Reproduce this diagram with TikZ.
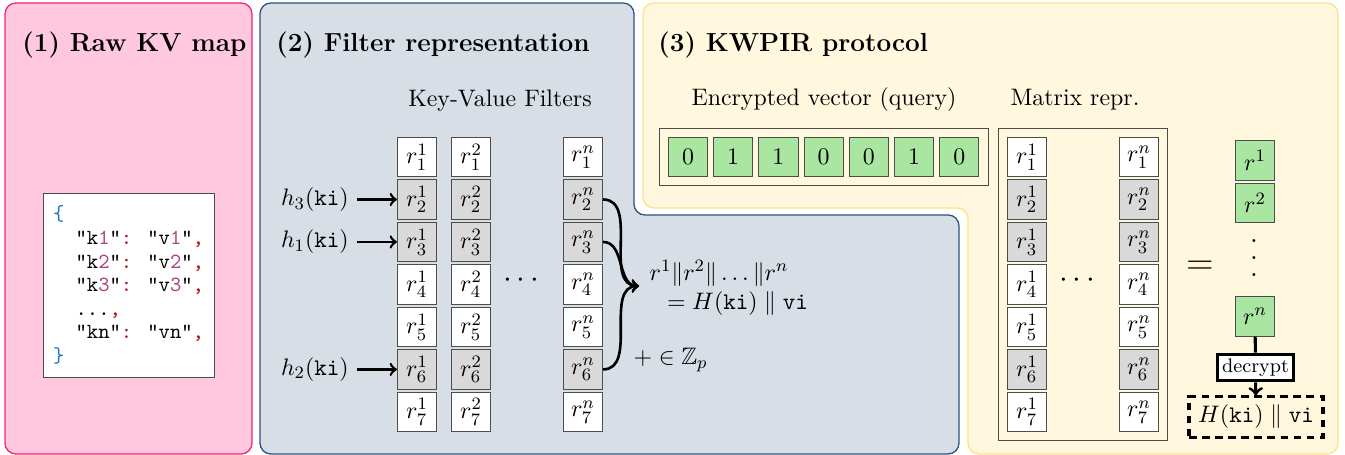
\documentclass[tikz,border=0pt,11pt]{standalone}
\usepackage{xcolor}
\usepackage{amsmath,amssymb}
\usepackage{tikz}
\usetikzlibrary{positioning,fit,calc}
\definecolor{panelpink}{RGB}{255,200,222}
\definecolor{edgepink}{RGB}{236,40,120}
\definecolor{panelgray}{RGB}{216,222,230}
\definecolor{edgeblue}{RGB}{44,82,130}
\definecolor{panelyellow}{RGB}{255,247,222}
\definecolor{edgeyellow}{RGB}{255,226,130}
\definecolor{cellgray}{RGB}{217,217,217}
\definecolor{cellgreen}{RGB}{168,230,162}
\definecolor{jsonblue}{RGB}{30,115,200}
\definecolor{jsonnum}{RGB}{170,70,130}
\definecolor{jsonred}{RGB}{170,20,20}
\newcommand{\kvline}[1]{"k\textcolor{jsonnum}{#1}"\textcolor{jsonred}{:} "v\textcolor{jsonnum}{#1}"\textcolor{jsonred}{,}}

\begin{document}
\begin{tikzpicture}[
    x=0.459pt, y=-0.459pt,
    node distance=1.1pt,
    panel/.style={line width=0.6pt, rounded corners=5pt},
    title/.style={anchor=west, font=\large\bfseries},
    cell/.style={rectangle, draw=black!70, fill=white, minimum width=18pt, minimum height=18pt, inner sep=0pt},
    hit/.style={cell, fill=cellgray},
    bit/.style={cell, fill=cellgreen},
    frame/.style={draw=black!70, inner sep=4pt},
    arrow/.style={->, very thick},
    codebox/.style={draw=black!70, fill=white, align=left, minimum width=78.5pt, minimum height=84.5pt, font=\ttfamily\fontsize{9.9}{10.8}\selectfont}
]
    \useasboundingbox (0,0) rectangle (1345,455);

    \draw[panel, fill=panelpink, draw=edgepink] (5,3) rectangle (252,454);
    \draw[panel, fill=panelgray, draw=edgeblue] (260,3) -- (634,3) -- (634,215) -- (959,215) -- (959,454) -- (260,454) -- cycle;
    \draw[panel, fill=panelyellow, draw=edgeyellow] (643,3) -- (1338,3) -- (1338,454) -- (968,454) -- (968,208) -- (643,208) -- cycle;

    \node[title] (t1) at (14,45) {(1) Raw KV map};
    \node[title] (t2) at (268,45) {(2) Filter representation};
    \node[title] (t3) at (650,45) {(3) KWPIR protocol};

    \node[codebox] (json) at (128.5,285) {\textcolor{jsonblue}{\{}\\
        \hspace*{10.4pt}\kvline{1}\\
        \hspace*{10.4pt}\kvline{2}\\
        \hspace*{10.4pt}\kvline{3}\\
        \hspace*{10.4pt}...\textcolor{jsonred}{,}\\
        \hspace*{10.4pt}"kn"\textcolor{jsonred}{:} "vn"\textcolor{jsonred}{,}\\
        \textcolor{jsonblue}{\}}};

    \node (flabel) at (500,101) {Key-Value Filters};

    \node[cell] (f11) at (417,157) {$r^1_1$};
    \node[hit, below=of f11] (f12) {$r^1_2$};
    \node[hit, below=of f12] (f13) {$r^1_3$};
    \node[cell, below=of f13] (f14) {$r^1_4$};
    \node[cell, below=of f14] (f15) {$r^1_5$};
    \node[hit, below=of f15] (f16) {$r^1_6$};
    \node[cell, below=of f16] (f17) {$r^1_7$};

    \node[cell, right=6.4pt of f11] (f21) {$r^2_1$};
    \node[hit, below=of f21] (f22) {$r^2_2$};
    \node[hit, below=of f22] (f23) {$r^2_3$};
    \node[cell, below=of f23] (f24) {$r^2_4$};
    \node[cell, below=of f24] (f25) {$r^2_5$};
    \node[hit, below=of f25] (f26) {$r^2_6$};
    \node[cell, below=of f26] (f27) {$r^2_7$};

    \node[cell, right=33pt of f21] (fn1) {$r^n_1$};
    \node[hit, below=of fn1] (fn2) {$r^n_2$};
    \node[hit, below=of fn2] (fn3) {$r^n_3$};
    \node[cell, below=of fn3] (fn4) {$r^n_4$};
    \node[cell, below=of fn4] (fn5) {$r^n_5$};
    \node[hit, below=of fn5] (fn6) {$r^n_6$};
    \node[cell, below=of fn6] (fn7) {$r^n_7$};

    \node[font=\Large] (fdots) at (524,281) {$\cdots$};

    \node[left=18.3pt of f12] (h3) {$h_3(\texttt{ki})$};
    \node[left=18.3pt of f13] (h1) {$h_1(\texttt{ki})$};
    \node[left=18.3pt of f16] (h2) {$h_2(\texttt{ki})$};
    \draw[arrow] (h3) -- (f12);
    \draw[arrow] (h1) -- (f13);
    \draw[arrow] (h2) -- (f16);

    \coordinate (merge) at (639,286);
    \draw[arrow] (fn2.east) to[out=0, in=180] (merge);
    \draw[arrow] (fn3.east) to[out=0, in=180] (merge);
    \draw[arrow] (fn6.east) to[out=0, in=180] (merge);
    \node[anchor=west, align=left, inner sep=1pt] (concat) at (647,288) {$r^1\|r^2\|\ldots\|r^n$\\\hspace*{8pt}$= H(\texttt{ki}) \parallel \texttt{vi}$};
    \node[anchor=west, inner sep=1pt] (zp) at (631,360) {$+ \in \mathbb{Z}_p$};

    \node (vlabel) at (824,100) {Encrypted vector (query)};
    \node (mlabel) at (1075,100) {Matrix repr.};

    \node[bit] (v1) at (688,157) {0};
    \node[bit, right=2.35pt of v1] (v2) {1};
    \node[bit, right=2.35pt of v2] (v3) {1};
    \node[bit, right=2.35pt of v3] (v4) {0};
    \node[bit, right=2.35pt of v4] (v5) {0};
    \node[bit, right=2.35pt of v5] (v6) {1};
    \node[bit, right=2.35pt of v6] (v7) {0};
    \node[frame, fit=(v1)(v7)] (vec) {};

    \node[cell] (m11) at (1027,157) {$r^1_1$};
    \node[hit, below=of m11] (m12) {$r^1_2$};
    \node[hit, below=of m12] (m13) {$r^1_3$};
    \node[cell, below=of m13] (m14) {$r^1_4$};
    \node[cell, below=of m14] (m15) {$r^1_5$};
    \node[hit, below=of m15] (m16) {$r^1_6$};
    \node[cell, below=of m16] (m17) {$r^1_7$};

    \node[cell, right=33pt of m11] (mn1) {$r^n_1$};
    \node[hit, below=of mn1] (mn2) {$r^n_2$};
    \node[hit, below=of mn2] (mn3) {$r^n_3$};
    \node[cell, below=of mn3] (mn4) {$r^n_4$};
    \node[cell, below=of mn4] (mn5) {$r^n_5$};
    \node[hit, below=of mn5] (mn6) {$r^n_6$};
    \node[cell, below=of mn6] (mn7) {$r^n_7$};
    \node[frame, fit=(m11)(mn7)] (mat) {};
    \node[font=\Large] (mdots) at (1080,281) {$\cdots$};

    \node[font=\LARGE] (eq) at (1200,268) {$=$};

    \node[bit] (res1) at (1255,160.5) {$r^1$};
    \node[bit, below=of res1] (res2) {$r^2$};
    \node[align=center, inner sep=0pt, font=\fontsize{14}{7.6}\selectfont] (vd) at (1254,258) {.\\.\\.};
    \node[bit] (resn) at (1255,316.5) {$r^n$};

    \node[draw, line width=1.5pt, fill=white, inner sep=2pt, font=\footnotesize] (dec) at (1255.5,367.5) {decrypt};
    \node[draw, dashed, dash pattern=on 3.5pt off 2.5pt, line width=1.4pt, minimum width=61.5pt, minimum height=18.4pt] (out) at (1256,417) {$H(\texttt{ki}) \parallel \texttt{vi}$};
    \draw[line width=1.4pt] (resn) -- (dec);
    \draw[->, line width=1.4pt] (dec) -- (out);
\end{tikzpicture}
\end{document}
